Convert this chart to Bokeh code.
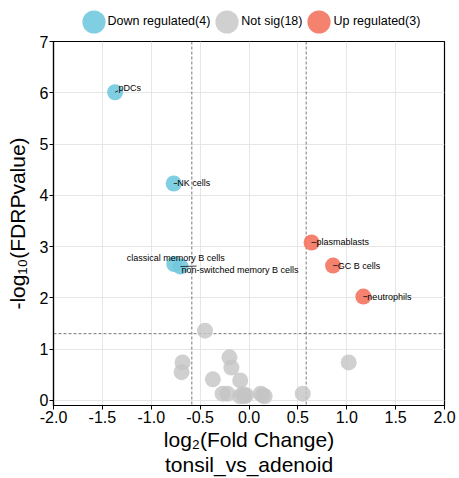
from bokeh.plotting import figure
from bokeh.layouts import column
from bokeh.models import ColumnDataSource, Span, Legend, LegendItem, FixedTicker
from bokeh.core.properties import value
from bokeh.embed import file_html
from bokeh.resources import INLINE

# ---------------- data ----------------
down_names = ["pDCs", "NK cells", "classical memory B cells", "non-switched memory B cells"]
down_x = [-1.37, -0.77, -0.765, -0.70]
down_y = [6.01, 4.23, 2.66, 2.61]

up_names = ["plasmablasts", "GC B cells", "neutrophils"]
up_x = [0.64, 0.86, 1.17]
up_y = [3.08, 2.63, 2.025]

ns_x = [-0.45, -0.68, -0.69, -0.20, -0.18, -0.37, -0.09, -0.27, -0.22,
        -0.09, -0.05, -0.03, -0.06, 0.12, 0.16, 0.14, 0.55, 1.02]
ns_y = [1.36, 0.74, 0.55, 0.84, 0.64, 0.41, 0.39, 0.13, 0.13,
        0.08, 0.08, 0.10, 0.12, 0.13, 0.08, 0.10, 0.13, 0.74]

fc_cut = 0.585   # log2(1.5)
p_cut = 1.301    # -log10(0.05)

x_ticks = [-2.0, -1.5, -1.0, -0.5, 0.0, 0.5, 1.0, 1.5, 2.0]
x_tick_labels = ["-2.0", "-1.5", "-1.0", "-0.5", "0.0", "0.5", "1.0", "1.5", "2.0"]
y_ticks = [0, 1, 2, 3, 4, 5, 6, 7]
y_tick_labels = ["0", "1", "2", "3", "4", "5", "6", "7"]

legend_labels = ["Down regulated(4)", "Not sig(18)", "Up regulated(3)"]

# ---------------- styling / layout ----------------
FONT = "Liberation Sans"
XMIN, XMAX, YMIN, YMAX = -2.0, 2.0, -0.1, 7.0
W = 459
LH = 34                  # legend strip height
H = 478 - LH             # main figure height
BL, BR, BT, BB = 53, 15, 7, 71
FW, FH = W - BL - BR, H - BT - BB
XPU, YPU = FW / (XMAX - XMIN), FH / (YMAX - YMIN)

BLUE, GREY, RED = "#72C9DE", "#C4C4C4", "#F4735F"
D = 16  # marker diameter in px


def dots(fig, xs, ys, color, alpha):
    return fig.ellipse(xs, ys, width=D, height=D, width_units="screen", height_units="screen",
                       fill_color=color, line_color=None, fill_alpha=alpha)


p = figure(width=W, height=H, x_range=(XMIN, XMAX), y_range=(YMIN, YMAX),
           output_backend="svg", toolbar_location=None,
           min_border_left=BL, min_border_right=BR, min_border_top=BT, min_border_bottom=BB)
p.background_fill_color = "white"
p.border_fill_color = "white"
p.outline_line_color = "black"
p.outline_line_width = 1.2

p.xaxis.ticker = FixedTicker(ticks=x_ticks)
p.yaxis.ticker = FixedTicker(ticks=y_ticks)
p.xaxis.major_label_overrides = dict(zip(x_ticks, x_tick_labels))
p.yaxis.major_label_overrides = dict(zip(y_ticks, y_tick_labels))
for ax in (p.xaxis, p.yaxis):
    ax.axis_line_color = "black"
    ax.axis_line_width = 1.2
    ax.major_tick_line_color = "black"
    ax.major_tick_out = 4
    ax.major_tick_in = 0
    ax.minor_tick_line_color = None
    ax.major_label_text_font = FONT
    ax.major_label_text_font_size = "16px"
    ax.major_label_text_color = "black"
    ax.major_label_standoff = 1
    ax.axis_label_text_font = FONT
    ax.axis_label_text_font_size = "21px"
    ax.axis_label_text_font_style = "normal"
    ax.axis_label_text_color = "black"
    ax.axis_label_standoff = 2
p.yaxis.axis_label_standoff = 8
p.xaxis.axis_label = "log\u2082(Fold Change)\ntonsil_vs_adenoid"
p.xaxis.axis_label_text_line_height = 1.1
p.yaxis.axis_label = "-log\u2081\u2080(FDRPvalue)"

p.grid.grid_line_color = "#E6E6E6"
p.grid.grid_line_width = 1

for loc in (-fc_cut, fc_cut):
    p.add_layout(Span(location=loc, dimension="height", line_color="#555555",
                      line_width=0.8, line_dash="3 2", level="underlay"))
p.add_layout(Span(location=p_cut, dimension="width", line_color="#555555",
                  line_width=0.8, line_dash="3 2", level="underlay"))

dots(p, down_x, down_y, BLUE, 0.9)
dots(p, ns_x, ns_y, GREY, 0.8)
dots(p, up_x, up_y, RED, 0.9)

# ---------------- labels ----------------
lab_names = down_names + up_names
lab_x = down_x + up_x
lab_y = down_y + up_y
# pixel offsets of text anchor (screen, y down) and leader end
txt_dx = [3.5, 3.5, 1.5, 1.0, 5.0, 4.6, 4.0]
txt_dy = [-4.5, -0.5, -6.0, 3.0, 0.0, 0.0, 0.0]
txt_align = ["left", "left", "center", "left", "left", "left", "left"]
lead_dx = [3.0, 3.5, 0.0, 16.0, 5.0, 4.5, 4.0]
lead_dy = [-1.5, 0.0, 0.0, -0.5, 0.0, 0.0, 0.0]

p.segment(x0=lab_x, y0=lab_y,
          x1=[x + d / XPU for x, d in zip(lab_x, lead_dx)],
          y1=[y - d / YPU for y, d in zip(lab_y, lead_dy)],
          line_color="#222222", line_width=0.9)

src = ColumnDataSource(dict(x=lab_x, y=lab_y, t=lab_names, dx=txt_dx, dy=txt_dy, al=txt_align))
p.text(x="x", y="y", text="t", x_offset="dx", y_offset="dy", text_align="al",
       source=src, text_baseline="middle", text_font=value(FONT),
       text_font_size="9px", text_color="black")

# ---------------- legend strip (separate figure above) ----------------
lg = figure(width=W, height=LH, x_range=(100, 101), y_range=(100, 101),
            output_backend="svg", toolbar_location=None,
            x_axis_location=None, y_axis_location=None,
            min_border_left=0, min_border_right=0, min_border_top=0, min_border_bottom=0)
lg.outline_line_color = None
lg.grid.visible = False
lg.background_fill_color = "white"
lg.border_fill_color = "white"
# legend proxies: same data as the plot, outside this strip's view
g_down = dots(lg, down_x, down_y, BLUE, 0.9)
g_ns = dots(lg, ns_x, ns_y, GREY, 0.8)
g_up = dots(lg, up_x, up_y, RED, 0.9)

GB = 29   # legend glyph box
legend = Legend(items=[LegendItem(label=legend_labels[0], renderers=[g_down]),
                       LegendItem(label=legend_labels[1], renderers=[g_ns]),
                       LegendItem(label=legend_labels[2], renderers=[g_up])],
                orientation="horizontal", location=(25.5, -1.5),
                glyph_width=GB, glyph_height=GB, label_standoff=0, spacing=2,
                padding=0, margin=0, border_line_color=None,
                background_fill_alpha=0, label_text_font=FONT,
                label_text_font_size="12.5px", label_text_color="black")
lg.add_layout(legend, "center")

layout = column(lg, p, spacing=0)
open("out.html", "w").write(file_html(layout, INLINE))
